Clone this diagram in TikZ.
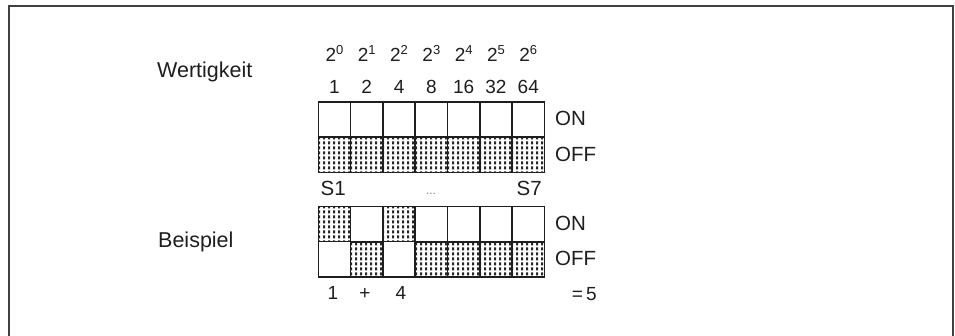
\documentclass[tikz,border=0pt]{standalone}
\usepackage{fontspec}
\setmainfont{Liberation Sans}
\usetikzlibrary{patterns}
\pgfdeclarepatternformonly{dipdots}{\pgfpoint{0pt}{0pt}}{\pgfpoint{4.6pt}{4.6pt}}{\pgfpoint{4.6pt}{4.6pt}}{%
  \pgfpathrectangle{\pgfpoint{1.2pt}{0.8pt}}{\pgfpoint{2.2pt}{3.0pt}}\pgfusepath{fill}}
\definecolor{ink}{HTML}{1E1E1E}
\newcommand{\supnum}[1]{\raisebox{0.42em}{\fontsize{13}{14}\selectfont #1}}
\tikzset{
  cell/.style={draw=ink, line width=1.6pt, minimum width=32.3pt, minimum height=35.3pt, inner sep=0pt, outer sep=0pt, fill=white},
  dotcell/.style={cell, pattern=dipdots, pattern color=black!85},
  lbl/.style={text=ink, inner sep=0pt, anchor=base},
  big/.style={lbl, font=\fontsize{21.5}{24}\selectfont},
  mid/.style={lbl, font=\fontsize{19}{21}\selectfont},
  sw/.style={lbl, font=\fontsize{20.5}{23}\selectfont},
}
\begin{document}
\begin{tikzpicture}[x=1pt,y=-1pt]
\useasboundingbox (0,0) rectangle (955,336);
\draw[line width=1.4pt, draw=black!75] (9,336) -- (9,6) -- (953,6) -- (953,336);

\node[big, anchor=base west] (wert) at (157,78) {Wertigkeit};
\node[big, anchor=base west] (beis) at (158,248) {Beispiel};

% top grid
\foreach \i/\e/\v in {1/0/1,2/1/2,3/2/4,4/3/8,5/4/16,6/5/32,7/6/64}{
  \pgfmathsetmacro{\cx}{318.3+32.3*(\i-0.5)}
  \node[mid] (pw\i) at (\cx,62) {2\supnum{\e}};
  \node[mid] (val\i) at (\cx,94) {\v};
  \node[cell] (ton\i) at (\cx,119.4) {};
  \node[dotcell] (toff\i) at (\cx,154.8) {};
}
\node[sw, anchor=base west] (on1) at (555,126) {ON};
\node[sw, anchor=base west] (off1) at (555,162) {OFF};

\node[sw, anchor=base west] (s1) at (320.5,195.5) {S1};
\node[lbl, text=black!50, font=\fontsize{12}{14}\selectfont] (dots) at (431,195) {...};
\node[sw, anchor=base east] (s7) at (542,195.5) {S7};

% example grid
\foreach \i/\st in {1/1,2/0,3/1,4/0,5/0,6/0,7/0}{
  \pgfmathsetmacro{\cx}{318.3+32.3*(\i-0.5)}
  \ifnum\st=1
    \node[dotcell] (bon\i) at (\cx,224.2) {};
    \node[cell] (boff\i) at (\cx,259.3) {};
  \else
    \node[cell] (bon\i) at (\cx,224.2) {};
    \node[dotcell] (boff\i) at (\cx,259.3) {};
  \fi
}
\node[sw, anchor=base west] (on2) at (555,231) {ON};
\node[sw, anchor=base west] (off2) at (555,266) {OFF};

\node[mid] (e1) at (333,300) {1};
\node[mid] (eplus) at (365,300) {+};
\node[mid] (e4) at (401,300) {4};
\node[mid, anchor=base east] (eres) at (597,301) {=\,5};
\end{tikzpicture}
\end{document}
